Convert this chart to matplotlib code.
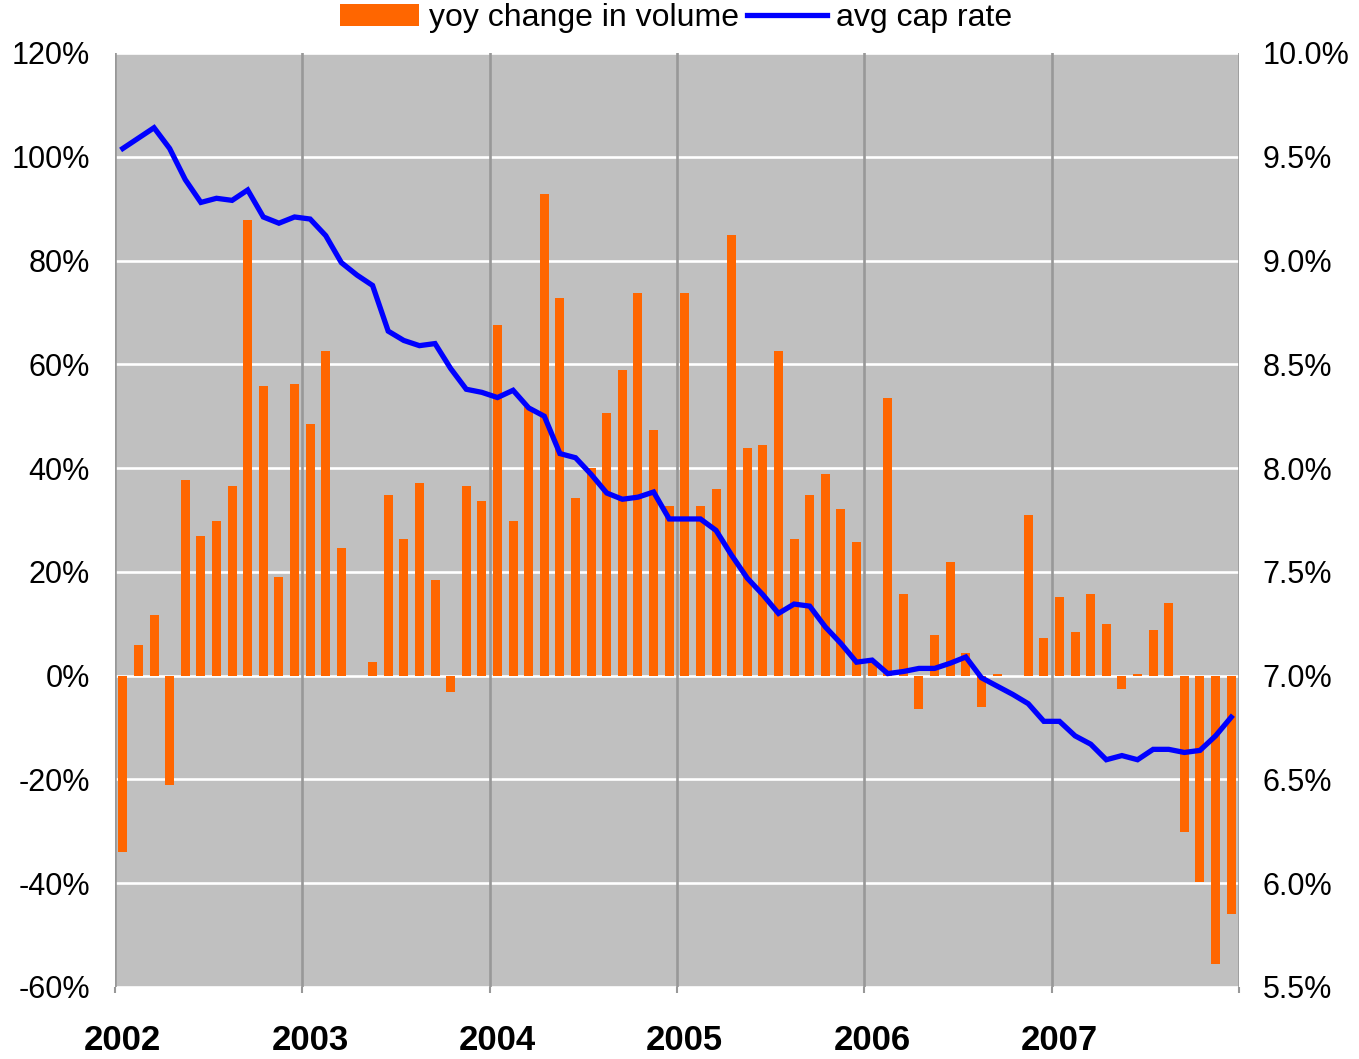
import numpy as np
import matplotlib
matplotlib.use("Agg")
import matplotlib.pyplot as plt
from matplotlib.patches import Patch
from matplotlib.lines import Line2D
from matplotlib.ticker import FuncFormatter

plt.rcParams["font.family"] = ["Liberation Sans", "DejaVu Sans"]

# ===== data (monthly, Jan 2002 .. Dec 2007) =====
years = ["2002", "2003", "2004", "2005", "2006", "2007"]

# yoy change in volume, %
volume_2002 = [-34, 6, 11.7, -21, 37.7, 26.9, 29.8, 36.5, 87.9, 55.8, 19.0, 56.3]
volume_2003 = [48.5, 62.5, 24.6, 0, 2.7, 34.8, 26.3, 37.1, 18.5, -3.1, 36.5, 33.7]
volume_2004 = [67.5, 29.8, 51.7, 92.9, 72.7, 34.2, 40.0, 50.6, 59.0, 73.8, 47.3, 32.7]
volume_2005 = [73.8, 32.7, 36.0, 85.0, 43.8, 44.4, 62.5, 26.3, 34.8, 38.8, 32.1, 25.8]
volume_2006 = [2.7, 53.5, 15.8, -6.5, 7.9, 21.9, 4.4, -6.0, 0.4, 0, 31.0, 7.3]
volume_2007 = [15.2, 8.5, 15.8, 10.0, -2.5, 0.4, 8.8, 14.0, -30.2, -39.8, -55.6, -46.0]

# avg cap rate, %
cap_2002 = [9.54, 9.59, 9.64, 9.54, 9.39, 9.28, 9.30, 9.29, 9.34, 9.21, 9.18, 9.21]
cap_2003 = [9.20, 9.12, 8.99, 8.93, 8.88, 8.66, 8.615, 8.59, 8.60, 8.48, 8.38, 8.365]
cap_2004 = [8.34, 8.375, 8.29, 8.25, 8.07, 8.05, 7.97, 7.88, 7.85, 7.86, 7.885, 7.755]
cap_2005 = [7.755, 7.755, 7.70, 7.58, 7.47, 7.39, 7.30, 7.345, 7.335, 7.235, 7.155, 7.065]
cap_2006 = [7.075, 7.01, 7.02, 7.035, 7.035, 7.06, 7.09, 6.99, 6.95, 6.91, 6.865, 6.78]
cap_2007 = [6.78, 6.71, 6.67, 6.595, 6.615, 6.595, 6.645, 6.645, 6.63, 6.64, 6.71, 6.80]

volume = np.array(volume_2002 + volume_2003 + volume_2004 + volume_2005 + volume_2006 + volume_2007)
cap_rate = np.array(cap_2002 + cap_2003 + cap_2004 + cap_2005 + cap_2006 + cap_2007)
months = np.arange(len(volume))

W, H = 1359, 1059
fig = plt.figure(figsize=(W / 100, H / 100), dpi=100)
ax = fig.add_axes([115 / W, 1 - 987 / H, 1124 / W, 934 / H])
ax.set_facecolor("#C0C0C0")
for s in ax.spines.values():
    s.set_visible(False)

# white horizontal grid + grey year separators
ax.set_ylim(-60, 120)
ax.set_xlim(-0.5, len(months) - 0.5)
for yv in np.arange(-60, 121, 20):
    ax.axhline(yv, color="white", lw=1.9, zorder=1)
for b in np.arange(0, len(months) + 1, 12) - 0.5:
    ax.axvline(b, color="#989898", lw=1.9, zorder=1.5)

ax.bar(months, volume, width=0.58, color="#FF6600", zorder=2)

ax.set_yticks(np.arange(-60, 121, 20))
ax.yaxis.set_major_formatter(FuncFormatter(lambda v, p: f"{v:.0f}%"))
ax.tick_params(axis="y", length=0, pad=18, labelsize=22)

ax.set_xticks(np.arange(0, len(months), 12))
ax.set_xticklabels(years, fontsize=25, fontweight="bold")
ax.set_xticks(np.arange(0, len(months) + 1, 12) - 0.5, minor=True)
ax.tick_params(axis="x", which="major", length=0, pad=27)
ax.tick_params(axis="x", which="minor", length=4, width=1.5, color="#989898")

ax2 = ax.twinx()
for s in ax2.spines.values():
    s.set_visible(False)
ax2.plot(months, cap_rate, color="#0000FF", lw=3.8, zorder=5,
         solid_joinstyle="miter")
ax2.set_ylim(5.5, 10.0)
ax2.set_yticks(np.arange(5.5, 10.01, 0.5))
ax2.yaxis.set_major_formatter(FuncFormatter(lambda v, p: f"{v:.1f}%"))
ax2.tick_params(axis="y", length=0, pad=17, labelsize=22)

handles = [Patch(facecolor="#FF6600", edgecolor="none"),
           Line2D([0], [0], color="#0000FF", lw=3.8)]
fig.legend(handles, ["yoy change in volume", "avg cap rate"],
           loc="center", bbox_to_anchor=(0.4975, 1 - 18 / H), ncol=2,
           frameon=False, fontsize=23, handlelength=2.5, handletextpad=0.3,
           columnspacing=0.25, borderpad=0, borderaxespad=0)

fig.savefig("out.png", dpi=100)
